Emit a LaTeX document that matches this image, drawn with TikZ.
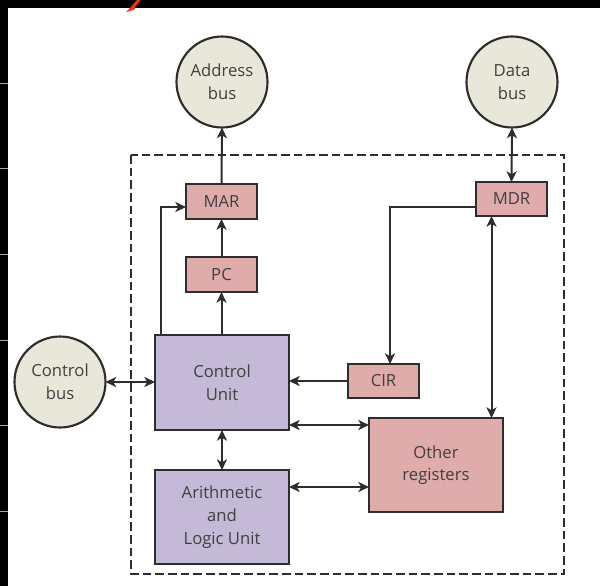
\documentclass[tikz,border=0pt]{standalone}
\usepackage{fontspec}
\setmainfont{Open Sans}
\usetikzlibrary{arrows.meta,calc}
\definecolor{pinkfill}{RGB}{224,171,171}
\definecolor{purplefill}{RGB}{196,185,214}
\definecolor{busfill}{RGB}{233,230,218}
\definecolor{edge}{RGB}{45,45,45}
\definecolor{txt}{RGB}{64,64,64}
\definecolor{scribble}{RGB}{235,50,30}
\tikzset{
  box/.style={draw=edge, line width=1.6pt, inner sep=0pt, outer sep=0pt, align=center,
    text=txt, font=\fontsize{12.5}{17}\selectfont},
  regbox/.style={box, fill=pinkfill},
  unitbox/.style={box, fill=purplefill},
  busnode/.style={circle, draw=edge, line width=1.6pt, fill=busfill, inner sep=0pt, outer sep=0pt,
    minimum size=68.25pt, align=center, text=txt, font=\fontsize{12.5}{17}\selectfont},
  tip/.tip={Stealth[length=8pt,width=7.5pt,inset=2.2pt]},
  conn/.style={draw=edge, line width=1.5pt, -tip},
  bconn/.style={draw=edge, line width=1.5pt, tip-tip},
}
\begin{document}
\begin{tikzpicture}[x=0.75pt,y=-0.75pt]
\useasboundingbox (0,0) rectangle (600,586);
\fill[white] (0,0) rectangle (600,586);
% screenshot frame
\fill[black] (0,0) rectangle (600,8);
\fill[black] (0,0) rectangle (8,586);
\foreach \yy in {83,168,254,340,425,511}{
  \draw[gray!70, line width=0.75pt] (0,\yy) -- (8,\yy);
}
\draw[scribble, line width=2.25pt, line cap=round] (139,0) -- (131,9) -- (134,8);
% dashed CPU boundary
\draw[edge, line width=2.2pt, dash pattern=on 6.5pt off 3pt] (131,155) rectangle (564,574);
% buses
\node[busnode] (addr) at (222,82) {Address\\bus};
\node[busnode] (data) at (512,82) {Data\\bus};
\node[busnode] (ctrl) at (60,382) {Control\\bus};
% registers
\node[regbox, minimum width=53.25pt, minimum height=26.25pt] (mar) at (221.5,201.5) {MAR};
\node[regbox, minimum width=53.25pt, minimum height=26.25pt] (pc) at (221.5,274.5) {PC};
\node[regbox, minimum width=53.25pt, minimum height=25.5pt] (mdr) at (511.5,199) {MDR};
\node[regbox, minimum width=53.25pt, minimum height=25.5pt] (cir) at (383.5,381) {CIR};
\node[regbox, minimum width=100.5pt, minimum height=70.5pt] (other) at (436,465) {Other\\registers};
% units
\node[unitbox, minimum width=100.5pt, minimum height=71.25pt] (cu) at (222,382.5) {Control\\Unit};
\node[unitbox, minimum width=100.5pt, minimum height=70.5pt] (alu) at (222,517) {Arithmetic\\and\\Logic Unit};
% routing points
\coordinate (c1) at (161,207);
\coordinate (c2) at (390,207);
\coordinate (c3) at (491.5,300);
\coordinate (c4) at (300,425);
\coordinate (c5) at (300,487);
% connectors
\draw[conn] (mar.north) -- (addr.south);
\draw[bconn] (data.south) -- (mdr.north);
\draw[conn] (pc.north) -- (mar.south);
\draw[conn] (cu.north -| pc) -- (pc.south);
\draw[conn] (cu.north -| c1) |- (mar.west |- c1);
\draw[conn] (mdr.west |- c2) -| (cir.north -| c2);
\draw[conn] (cir.west) -- (cu.east |- cir.west);
\draw[bconn] (ctrl.east) -- (cu.west |- ctrl.east);
\draw[bconn] (mdr.south -| c3) -- (other.north -| c3);
\draw[bconn] (cu.east |- c4) -- (other.west |- c4);
\draw[bconn] (alu.east |- c5) -- (other.west |- c5);
\draw[bconn] (cu.south) -- (alu.north);
\end{tikzpicture}
\end{document}
